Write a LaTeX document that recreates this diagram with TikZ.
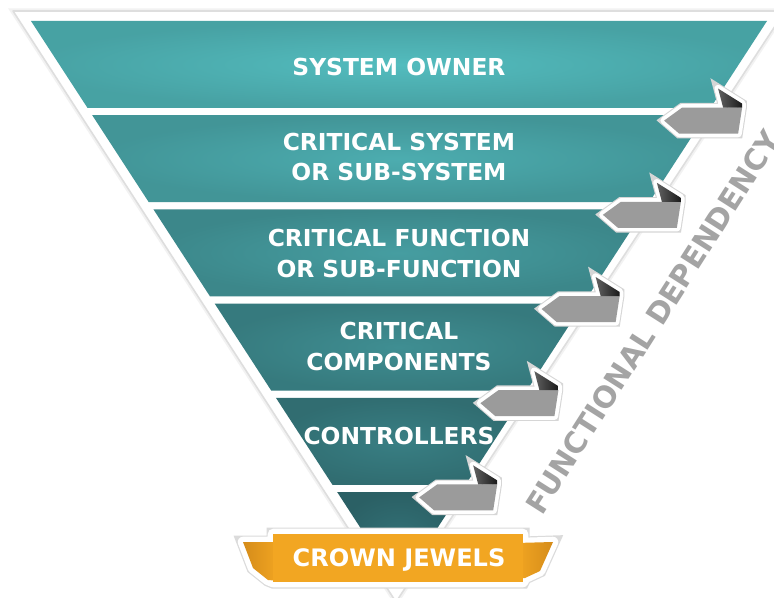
\documentclass[tikz,border=0pt]{standalone}
\usepackage{fontspec}
\setmainfont{DejaVu Sans}
\definecolor{cjTealLight}{HTML}{53BCBE}
\definecolor{cjTealDark}{HTML}{2C6268}
\definecolor{cjTab}{HTML}{9B9B9B}
\definecolor{cjGold}{HTML}{F2A622}
\definecolor{cjGoldDark}{HTML}{D58C1A}
\definecolor{cjGreyText}{HTML}{A4A4A4}
\tikzset{
  % white pieces on a white page only read through their soft grey rims
  backing/.style    = {fill=white, draw=black!13, line width=0.9pt, line join=round,
                       preaction={draw=black!5, line width=3pt}},
  bandtext/.style   = {text=white, font=\bfseries\fontsize{13.3}{17.3}\selectfont,
                       align=center, inner sep=0pt},
  tabedge/.style    = {draw=white, line width=4.2pt, line join=round,
                       preaction={draw=black!16, line width=5.4pt}},
  tabfold/.style    = {left color=black!62, right color=black!90},
  ribbonedge/.style = {draw=white, line width=6pt, line join=round,
                       preaction={draw=black!14, line width=7.4pt}},
  sidetext/.style   = {text=cjGreyText, font=\bfseries\fontsize{16.8}{20}\selectfont,
                       inner sep=0pt},
}

\begin{document}
\begin{tikzpicture}[x=0.02cm, y=-0.02cm]
  \useasboundingbox (0,0) rectangle (774,598);
  \fill[white] (0,0) rectangle (774,598);
  % white funnel behind the bands
  \draw[backing] (13,11) -- (785,11) -- (396,602) -- cycle;
  % six bands, lighter at the top, each a bit narrower
  \foreach \i in {0,...,5} {
    \pgfmathtruncatemacro{\p}{100-17*\i}
    \pgfmathsetmacro{\yt}{21+94.2*\i}
    \pgfmathsetmacro{\yb}{\yt+87}
    \pgfmathsetmacro{\dt}{0.65*(\yt-21)}
    \pgfmathsetmacro{\db}{0.65*(\yb-21)}
    \shade[inner color=cjTealLight!\p!cjTealDark,
           outer color=cjTealLight!\p!cjTealDark!86!black]
      (31+\dt,\yt) -- (767-\dt,\yt) -- (767-\db,\yb) -- (31+\db,\yb) -- cycle;
  }
  % grey tabs folded over the right edge between bands
  \foreach \k in {1,...,5} {
    \pgfmathsetmacro{\ye}{17.4+94.2*\k}
    \pgfmathsetmacro{\xe}{767-0.65*(\ye-21)}
    \begin{scope}[shift={(\xe,\ye)}]
      \draw[tabedge] (-44,9) -- (-26,-4) -- (15,-4) -- (10,-23) -- (34,-8)
        -- (34,-4) -- (30,22) -- (-29,22) -- cycle;
      \fill[cjTab] (-44,9) -- (-26,-4) -- (34,-4) -- (30,22) -- (-29,22) -- cycle;
      \shade[tabfold] (10,-23) -- (34,-8) -- (34,-4) -- (15,-4) -- cycle;
    \end{scope}
  }
  \node[bandtext] (owner) at (399,66.5) {SYSTEM OWNER};
  \node[bandtext] (system) at (399,157) {CRITICAL SYSTEM\\OR SUB-SYSTEM};
  \node[bandtext] (function) at (399,253.5) {CRITICAL FUNCTION\\OR SUB-FUNCTION};
  \node[bandtext] (components) at (399,346.5) {CRITICAL\\COMPONENTS};
  \node[bandtext] (controllers) at (399,435.5) {CONTROLLERS};
  \node[sidetext, rotate=57.5] (dependency) at (653,322) {FUNCTIONAL DEPENDENCY};
  % ribbon at the tip
  \draw[ribbonedge] (243,542) -- (273,542) -- (273,534) -- (523,534) -- (523,543)
    -- (553,542) -- (540,571) -- (525,578) -- (523,582) -- (273,582) -- (268,580)
    -- (253,568) -- cycle;
  \shade[left color=cjGoldDark, right color=cjGold]
    (243,542) -- (280,542) -- (280,581) -- (268,580) -- (253,568) -- cycle;
  \shade[left color=cjGold, right color=cjGoldDark]
    (516,543) -- (553,542) -- (540,571) -- (525,578) -- (516,578) -- cycle;
  \fill[cjGold] (273,534) rectangle (523,582);
  \node[bandtext, font=\bfseries\fontsize{13.7}{16}\selectfont] (jewels) at (399,560)
    {CROWN JEWELS};
\end{tikzpicture}
\end{document}
